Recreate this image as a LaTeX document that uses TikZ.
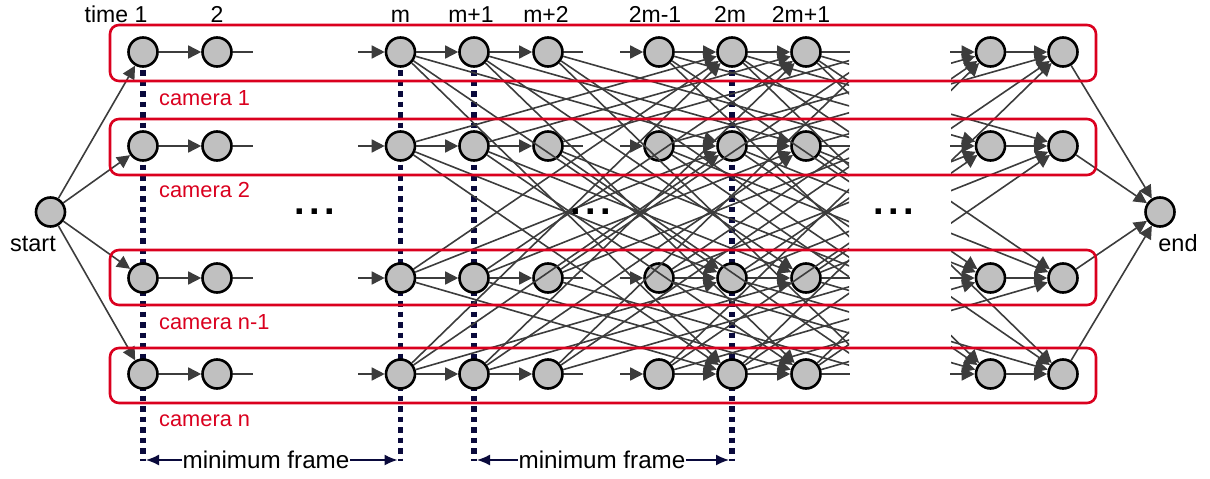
\documentclass[tikz,border=0pt]{standalone}
\usepackage{fontspec}
\setmainfont{Liberation Sans}
\usetikzlibrary{arrows.meta}
\definecolor{edgegray}{RGB}{60,60,60}
\definecolor{boxred}{RGB}{218,0,30}
\definecolor{guidenavy}{RGB}{10,10,60}
\definecolor{nodegray}{RGB}{192,192,192}
\begin{document}
\begin{tikzpicture}[x=1pt,y=-1pt,
  state/.style={circle,draw=black,fill=nodegray,line width=2.6pt,minimum size=29pt,inner sep=0pt},
  flow/.style={draw=edgegray,line width=1.6pt,-{Triangle[length=13pt,width=13pt]}},
  plain/.style={draw=edgegray,line width=1.6pt},
  guide/.style={draw=guidenavy,line width=5.5pt,dash pattern=on 5.5pt off 5pt},
  span/.style={draw=guidenavy,line width=1.5pt,-{Latex[length=13pt,width=11pt]}},
  camera/.style={draw=boxred,line width=2.6pt,rounded corners=9pt},
  camlabel/.style={text=boxred,font=\fontsize{21.8}{26}\selectfont,anchor=base west,inner sep=0pt},
  timelabel/.style={font=\fontsize{23}{27}\selectfont,anchor=base,inner sep=0pt},
  ends/.style={font=\fontsize{23.5}{27}\selectfont,anchor=base,inner sep=0pt},
  ellip/.style={font=\bfseries\fontsize{38}{42}\selectfont,anchor=base,inner sep=0pt}
]
\useasboundingbox (0,0) rectangle (1210,479);

% minimum-frame guide lines (behind the states)
\foreach \x in {143,400.5,474,732}
  \draw[guide] (\x,70) -- (\x,461);

% states: one row per camera, one column per time step
\node[state] (start) at (50.5,212) {};
\node[state] (end) at (1160,212) {};
\foreach \r/\y in {1/52,2/146,3/278,4/374} {
  \foreach \n/\x in {a/143,b/217,m/400.5,p/474,q/548,s/659,t/732,u/806,v/990.5,w/1063}
    \node[state] (\n\r) at (\x,\y) {};
  % loose ends of the elided stretches
  \coordinate (bs\r) at (253,\y);
  \coordinate (ms\r) at (358,\y);
  \coordinate (qs\r) at (583,\y);
  \coordinate (ss\r) at (620,\y);
  \coordinate (us\r) at (850,\y);
  \coordinate (vs\r) at (950,\y);
  % columns m later than m+2 and 2m+1
  \coordinate (gq\r) at (879.5,\y);
  \coordinate (gu\r) at (1137.5,\y);
}

% staying on the same camera
\foreach \r in {1,...,4} {
  \draw[flow] (start) -- (a\r);
  \draw[flow] (a\r) -- (b\r);
  \draw[plain] (b\r) -- (bs\r);
  \draw[flow] (ms\r) -- (m\r);
  \draw[flow] (m\r) -- (p\r);
  \draw[flow] (p\r) -- (q\r);
  \draw[plain] (q\r) -- (qs\r);
  \draw[flow] (ss\r) -- (s\r);
  \draw[flow] (s\r) -- (t\r);
  \draw[flow] (t\r) -- (u\r);
  \draw[plain] (u\r) -- (us\r);
  \draw[flow] (vs\r) -- (v\r);
  \draw[flow] (v\r) -- (w\r);
  \draw[flow] (w\r) -- (end);
}

% switching camera: a jump of m frames
\begin{scope}
  \clip (0,0) rectangle (849,479) (951,0) rectangle (1210,479);
  \foreach \i in {1,...,4} {
    \foreach \j in {1,...,4} {
      \ifnum\i=\j\relax\else
        \draw[flow] (m\i) -- (t\j);
        \draw[flow] (p\i) -- (u\j);
        \draw[flow] (q\i) -- (gq\j);
        \draw[flow] (s\i) -- (v\j);
        \draw[flow] (t\i) -- (w\j);
      \fi
    }
  }
\end{scope}
\begin{scope}
  \clip (0,0) rectangle (849,479);
  \foreach \i in {1,...,4} {
    \foreach \j in {1,...,4} {
      \ifnum\i=\j\relax\else
        \draw[flow] (u\i) -- (gu\j);
      \fi
    }
  }
\end{scope}

% camera groups
\foreach \top/\bot in {25/81,119/175,250/305,348/403}
  \draw[camera] (110,\top) rectangle (1096,\bot);

\node[camlabel] (c1) at (159,105) {camera 1};
\node[camlabel] (c2) at (159,197.3) {camera 2};
\node[camlabel] (c3) at (159,329.3) {camera n-1};
\node[camlabel] (c4) at (159,426.7) {camera n};

% time axis
\node[timelabel] (t1) at (116,23) {time 1};
\node[timelabel] (t2) at (217,23) {2};
\node[timelabel] (tm) at (400.5,23) {m};
\node[timelabel] (tm1) at (471,23) {m+1};
\node[timelabel] (tm2) at (546,22) {m+2};
\node[timelabel] (t2m1) at (655,23) {2m-1};
\node[timelabel] (t2m) at (730,23) {2m};
\node[timelabel] (t2m2) at (801,23) {2m+1};

\node[ends] (ls) at (33,251) {start};
\node[ends] (le) at (1178,251.5) {end};

% elided time steps
\node[ellip] (d1) at (315,214) {.\hspace{4.4pt}.\hspace{4.4pt}.};
\node[ellip] (d2) at (591,214) {.\hspace{4.4pt}.\hspace{4.4pt}.};
\node[ellip] (d3) at (894,214) {.\hspace{4.4pt}.\hspace{4.4pt}.};

% minimum frame spans
\node[font=\fontsize{24.2}{28}\selectfont,inner sep=0.5pt] (mf1) at (266,460) {minimum frame};
\node[font=\fontsize{24.2}{28}\selectfont,inner sep=0.5pt] (mf2) at (602,460) {minimum frame};
\coordinate (mf1l) at (146,460);
\coordinate (mf1r) at (397.5,460);
\coordinate (mf2l) at (477,460);
\coordinate (mf2r) at (729,460);
\draw[span] (mf1) -- (mf1l);
\draw[span] (mf1) -- (mf1r);
\draw[span] (mf2) -- (mf2l);
\draw[span] (mf2) -- (mf2r);
\end{tikzpicture}
\end{document}
